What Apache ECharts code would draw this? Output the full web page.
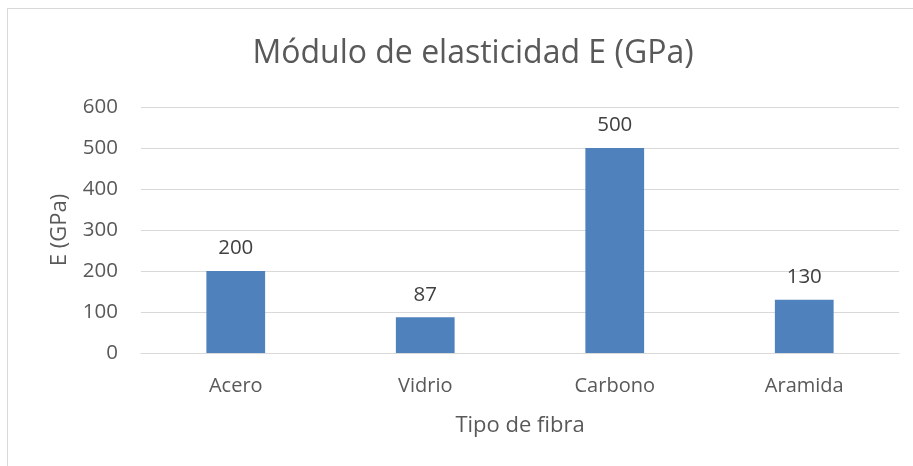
<!DOCTYPE html>
<html>
<head>
<meta charset="utf-8">
<script src="https://cdn.jsdelivr.net/npm/echarts@6/dist/echarts.min.js"></script>
<style>html,body{margin:0;padding:0;background:#fff}#c{width:913px;height:466px}</style>
</head>
<body>
<div id="c"></div>
<script>
const categories = ["Acero", "Vidrio", "Carbono", "Aramida"];
const values = [200, 87, 500, 130];
const yTicks = [0, 100, 200, 300, 400, 500, 600];
const titleText = "Módulo de elasticidad E (GPa)";
const xName = "Tipo de fibra";
const yName = "E (GPa)";

const chart = echarts.init(document.getElementById('c'));
const font = "'Open Sans', 'Noto Sans', sans-serif";
chart.setOption({
  animation: false,
  textStyle: { fontFamily: font },
  title: {
    text: titleText, left: 468, top: 33, textAlign: 'center',
    textStyle: { fontFamily: font, fontSize: 32, fontWeight: 'normal', color: '#595959' }
  },
  graphic: [
    { type: 'line', shape: { x1: 7, y1: 8.5, x2: 913, y2: 8.5 }, style: { stroke: '#d9d9d9', lineWidth: 1 } },
    { type: 'line', shape: { x1: 7.5, y1: 8, x2: 7.5, y2: 466 }, style: { stroke: '#d9d9d9', lineWidth: 1 } }
  ],
  grid: { left: 141, right: 14, top: 107, bottom: 113, containLabel: false },
  xAxis: {
    type: 'category', data: categories,
    name: xName, nameLocation: 'middle', nameGap: 62,
    nameTextStyle: { fontSize: 22, color: '#595959', fontFamily: font },
    axisLine: { lineStyle: { color: '#d9d9d9', width: 1 } },
    axisTick: { show: false },
    axisLabel: { fontSize: 20, color: '#595959', margin: 23, fontFamily: font }
  },
  yAxis: {
    type: 'value', min: yTicks[0], max: yTicks[yTicks.length - 1], interval: 100,
    name: yName, nameLocation: 'middle', nameGap: 70, nameRotate: 90,
    nameTextStyle: { fontSize: 22, color: '#595959', fontFamily: font },
    axisLine: { show: false }, axisTick: { show: false },
    axisLabel: { fontSize: 20.5, color: '#595959', margin: 23, fontFamily: font },
    splitLine: { lineStyle: { color: '#d9d9d9', width: 1 } }
  },
  series: [{
    type: 'bar', data: values, barWidth: '31%',
    itemStyle: { color: '#4F81BD' },
    label: { show: true, position: 'top', distance: 12, fontSize: 20.5, color: '#404040', fontFamily: font }
  }]
});
</script>
</body>
</html>
